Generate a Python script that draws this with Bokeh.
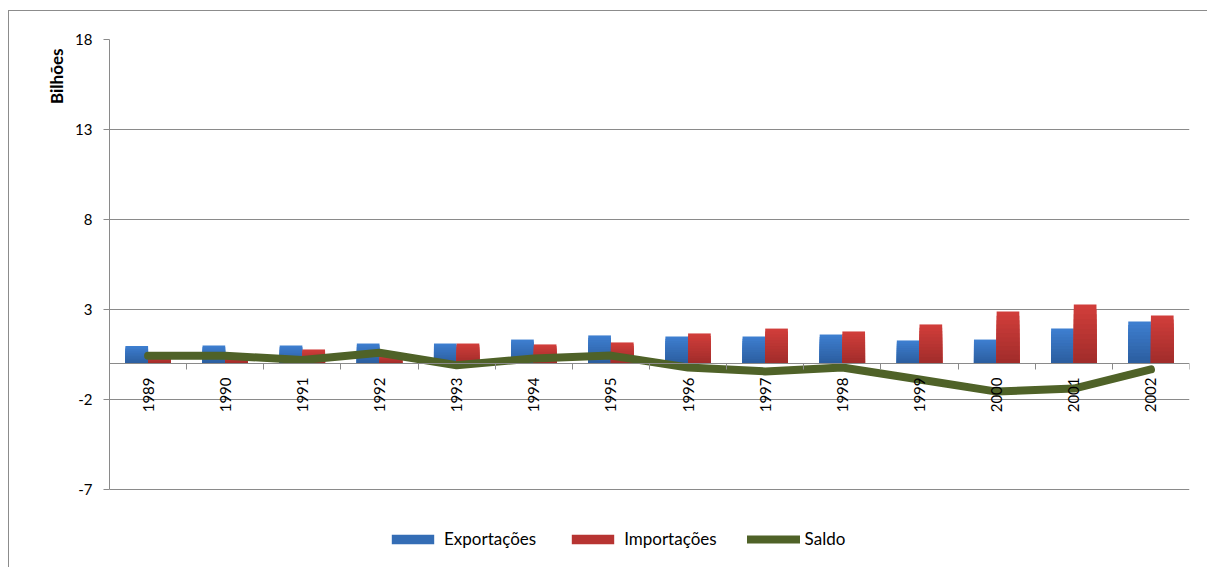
from math import pi
from bokeh.plotting import figure
from bokeh.models import (ColumnDataSource, FixedTicker, Legend, LegendItem, Title, Range1d)
from bokeh.embed import file_html
from bokeh.resources import INLINE

years = ["1989", "1990", "1991", "1992", "1993", "1994", "1995",
         "1996", "1997", "1998", "1999", "2000", "2001", "2002"]
exportacoes = [0.97, 1.00, 1.00, 1.11, 1.11, 1.33, 1.56, 1.50, 1.50, 1.61, 1.28, 1.33, 1.94, 2.33]
importacoes = [0.50, 0.55, 0.78, 0.50, 1.11, 1.06, 1.17, 1.67, 1.94, 1.78, 2.17, 2.89, 3.28, 2.67]
saldo = [0.43, 0.43, 0.20, 0.60, -0.10, 0.28, 0.44, -0.22, -0.44, -0.22, -0.89, -1.56, -1.39, -0.33]
y_ticks = [-7, -2, 3, 8, 13, 18]
y_tick_labels = ["-7", "-2", "3", "8", "13", "18"]

idx = list(range(len(years)))
bar_w = 0.294

FONT = "Lato"
GRID = "#8a8a8a"
BLUE_TOP, BLUE_BOT = (62, 127, 209), (43, 93, 158)
RED_TOP, RED_BOT = (210, 62, 59), (160, 44, 42)
LEVELS = 12


def mix(c1, c2, t):
    r, g, b = (round(a + (bb - a) * t) for a, bb in zip(c1, c2))
    return "#%02x%02x%02x" % (r, g, b)


def gradient_bars(xs, values, top_c, bot_c):
    """Nested bars (tallest first) so each bar shades from light top to dark base."""
    gx, gtop, gcol = [], [], []
    for j in range(LEVELS):
        frac = (LEVELS - j) / LEVELS
        t = 1 - (frac - 0.5 / LEVELS)  # 0 at top band, 1 at base band
        for x, v in zip(xs, values):
            gx.append(x)
            gtop.append(v * frac)
            gcol.append(mix(top_c, bot_c, t))
    return ColumnDataSource(dict(x=gx, top=gtop, color=gcol))


src_exp = gradient_bars([i - bar_w / 2 for i in idx], exportacoes, BLUE_TOP, BLUE_BOT)
src_imp = gradient_bars([i + bar_w / 2 for i in idx], importacoes, RED_TOP, RED_BOT)
src_line = ColumnDataSource(dict(x=idx, saldo=saldo))
mid_row = (LEVELS // 2) * len(years)  # a row with the mid-gradient colour, for the legend swatch

# frame spans from the top of the value axis to the bottom of the canvas
# (the legend lives inside the frame, below the lowest gridline)
p = figure(width=1199, height=557, output_backend="svg", toolbar_location=None,
           x_range=Range1d(-0.5, len(years) - 0.5), y_range=Range1d(-7 - 79 / 18, 18),
           min_border_left=100, min_border_right=19, min_border_top=28, min_border_bottom=0)
p.margin = (10, 0, 0, 8)
p.styles = {"border-top": "1px solid #8c8c8c", "border-left": "1px solid #8c8c8c",
            "box-sizing": "border-box"}
p.outline_line_color = None
p.background_fill_color = "white"
p.border_fill_color = "white"

# y axis
p.yaxis.ticker = FixedTicker(ticks=y_ticks)
p.yaxis.bounds = (y_ticks[0], y_ticks[-1])
p.yaxis.major_label_overrides = {t: s for t, s in zip(y_ticks, y_tick_labels)}
p.yaxis.axis_line_color = GRID
p.yaxis.major_tick_line_color = GRID
p.yaxis.major_tick_out = 6
p.yaxis.major_tick_in = 0
p.yaxis.minor_tick_line_color = None
p.yaxis.major_label_text_font = FONT
p.yaxis.major_label_text_font_size = "15px"
p.yaxis.major_label_text_color = "#000000"
p.yaxis.major_label_standoff = 11
p.ygrid.ticker = FixedTicker(ticks=y_ticks)
p.ygrid.grid_line_color = GRID
p.ygrid.grid_line_width = 1
p.xgrid.grid_line_color = None

# x axis at zero
xa = p.xaxis[0]
xa.fixed_location = 0
xa.ticker = FixedTicker(ticks=idx, minor_ticks=[i + 0.5 for i in idx[:-1]] + [-0.5, len(years) - 0.5])
xa.major_label_overrides = {i: y for i, y in zip(idx, years)}
xa.major_label_orientation = pi / 2
xa.axis_line_color = GRID
xa.major_tick_line_color = None
xa.major_tick_out = 6
xa.major_tick_in = 0
xa.minor_tick_line_color = GRID
xa.minor_tick_out = 6
xa.minor_tick_in = 0
xa.major_label_text_font = FONT
xa.major_label_text_font_size = "15px"
xa.major_label_text_color = "#000000"
xa.major_label_standoff = 8

r_exp = p.vbar(x="x", top="top", bottom=0, width=bar_w, source=src_exp,
               fill_color="color", line_color=None)
r_imp = p.vbar(x="x", top="top", bottom=0, width=bar_w, source=src_imp,
               fill_color="color", line_color=None)
r_sal = p.line(x="x", y="saldo", source=src_line, line_color="#4f6228", line_width=8,
               line_cap="round", line_join="round")

p.add_layout(Title(text="Bilhões", align="right", text_font=FONT, text_font_style="bold",
                   text_font_size="17px", text_color="#000000", offset=9, standoff=12), "left")

legend = Legend(items=[LegendItem(label="Exportações", renderers=[r_exp], index=mid_row),
                       LegendItem(label="Importações", renderers=[r_imp], index=mid_row),
                       LegendItem(label="Saldo", renderers=[r_sal])],
                orientation="horizontal", location=(277, 19),
                glyph_width=53, glyph_height=12, label_standoff=5, spacing=30,
                padding=0, margin=0, border_line_color=None, background_fill_alpha=0,
                label_text_font=FONT, label_text_font_size="17px", label_text_color="#000000")
p.add_layout(legend, "center")

open("out.html", "w").write(file_html(p, INLINE))
